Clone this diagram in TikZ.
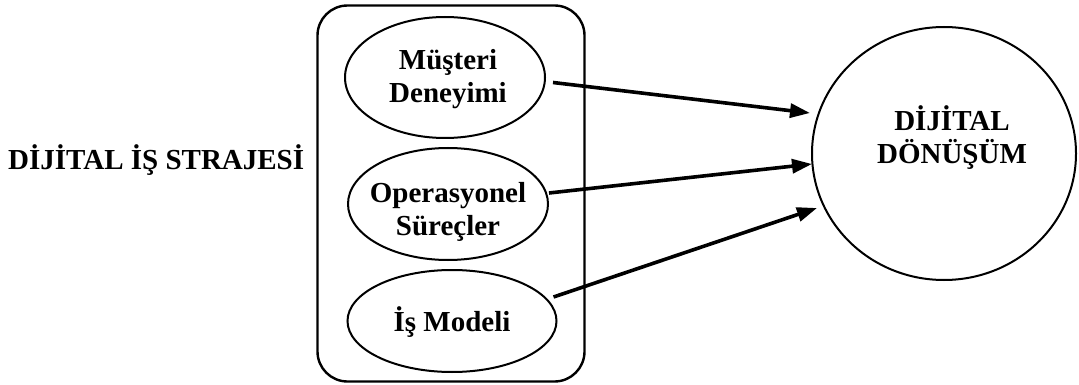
\documentclass[tikz,border=0pt]{standalone}
\usepackage{fontspec}
\setmainfont{Liberation Serif}
\usetikzlibrary{shapes.geometric,arrows.meta,calc}
\tikzset{
  txt/.style={font=\bfseries\fontsize{29}{33}\selectfont, align=center, inner sep=0pt},
  oval/.style={draw, ellipse, line width=2pt, inner sep=0pt},
  conn/.style={line width=3.6pt, -{Triangle[length=20pt,width=14pt]}},
}
\begin{document}
\begin{tikzpicture}[x=1pt,y=-1pt]
\useasboundingbox (0,0) rectangle (1079,385);
% container
\node[draw, rounded corners=30pt, line width=2.4pt, minimum width=267pt, minimum height=376pt, inner sep=0pt] (box) at (451,193.5) {};
% ellipses
\node[oval, minimum width=200pt, minimum height=121pt] (e1) at (445,77.5) {};
\node[oval, minimum width=200pt, minimum height=112pt] (e2) at (448,204) {};
\node[oval, minimum width=209pt, minimum height=102pt] (e3) at (452,321) {};
\node[txt] (t1) at (448,79) {Müşteri\\Deneyimi};
\node[txt] (t2) at (448,212) {Operasyonel\\Süreçler};
\node[txt] (t3) at (452,322) {İş Modeli};
% big circle
\node[oval, line width=2pt, minimum width=264pt, minimum height=253pt] (c) at (944,153.5) {};
\node[txt] (ct) at (952,138) {DİJİTAL\\DÖNÜŞÜM};
% title
\node[txt, anchor=west] (title) at (8,160) {DİJİTAL İŞ STRAJESİ};
% arrows
\coordinate (s1) at ($(e1.east)+(7,5)$);
\coordinate (s2) at ($(e2.east)+(0,-11)$);
\coordinate (s3) at ($(e3.east)+(-4,-24)$);
\coordinate (a1) at (810,113);
\coordinate (a2) at (812,164);
\coordinate (a3) at (817,208);
\draw[conn] (s1) -- (a1);
\draw[conn] (s2) -- (a2);
\draw[conn] (s3) -- (a3);
\end{tikzpicture}
\end{document}
